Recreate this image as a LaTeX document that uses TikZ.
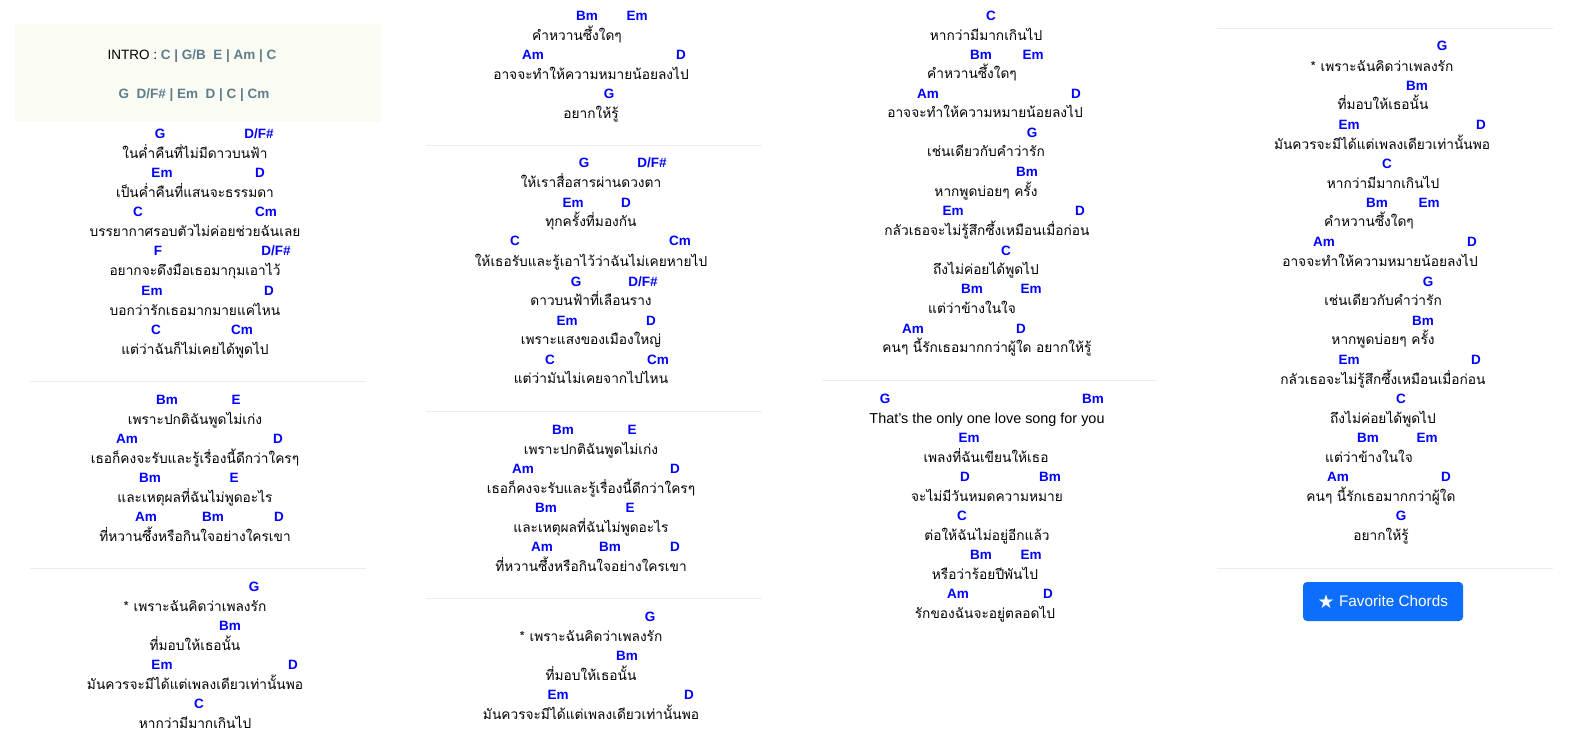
\documentclass[tikz,border=0pt]{standalone}
\usepackage{fontspec}
\setmainfont{Liberation Sans}
\newfontfamily\thaifont[Script=Thai]{Loma}
\newfontfamily\symfont{DejaVu Sans}
\usepackage{xcolor}
\usetikzlibrary{positioning}
\definecolor{chordblue}{RGB}{0,0,255}
\definecolor{introgray}{RGB}{95,125,140}
\definecolor{introbg}{RGB}{250,251,242}
\definecolor{rulegray}{RGB}{236,236,236}
\definecolor{btnblue}{RGB}{13,110,253}
\newcommand{\DFs}{D/F\#}

\begin{document}
\begin{tikzpicture}[x=1pt, y=-1pt,
    chord/.style={anchor=base, yshift=-5pt, inner sep=0pt, text=chordblue,
        font=\fontsize{13.5}{15}\selectfont\bfseries},
    lyric/.style={anchor=base, yshift=-5pt, inner sep=0pt,
        font=\thaifont\fontsize{13.7}{15}\selectfont},
    rule/.style={draw=rulegray, line width=1pt}]
    % Page
    \useasboundingbox (0,0) rectangle (1573,751);
    \fill[white] (0,0) rectangle (1573,751);

    % Intro box
    \fill[introbg] (15,24) rectangle (381,122);
    \node[lyric, font=\fontsize{13.5}{15}\selectfont] (intro1) at (192,55)
        {INTRO :\ \textcolor{introgray}{\bfseries C | G/B\ \ E | Am | C}};
    \node[lyric, font=\fontsize{13.5}{15}\selectfont\bfseries, text=introgray] (intro2) at (194,94)
        {G\ \ \DFs\ | Em\ \ D | C | Cm};

    % Section rules
    \draw[rule] (30,381) -- (366,381);
    \draw[rule] (30,568) -- (366,568);
    \draw[rule] (426,146) -- (762,146);
    \draw[rule] (426,411) -- (762,411);
    \draw[rule] (426,598) -- (762,598);
    \draw[rule] (822,380) -- (1157,380);
    \draw[rule] (1217,29) -- (1553,29);
    \draw[rule] (1217,568) -- (1553,568);

    % Column 1
    \foreach \x/\y/\c [count=\i] in {160/134/G, 259/134/\DFs, 162/173/Em, 260/173/D,
        138/212/C, 266/212/Cm, 158/251/F, 276/251/\DFs, 152/290/Em, 269/290/D,
        156/329/C, 242/329/Cm, 167/399/Bm, 236/399/E, 127/438/Am, 278/438/D,
        150/477/Bm, 234/477/E, 146/516/Am, 213/516/Bm, 279/516/D, 254/586/G,
        230/625/Bm, 162/664/Em, 293/664/D, 199/703/C}
        \node[chord] (chA\i) at (\x,\y) {\c};
    \foreach \x/\y/\t [count=\i] in {195/154/ในค่ำคืนที่ไม่มีดาวบนฟ้า,
        195/193/เป็นค่ำคืนที่แสนจะธรรมดา, 195/232/บรรยากาศรอบตัวไม่ค่อยช่วยฉันเลย,
        195/271/อยากจะดึงมือเธอมากุมเอาไว้, 195/310/บอกว่ารักเธอมากมายแค่ไหน,
        195/349/แต่ว่าฉันก็ไม่เคยได้พูดไป, 195/419/เพราะปกติฉันพูดไม่เก่ง,
        195/458/เธอก็คงจะรับและรู้เรื่องนี้ดีกว่าใครๆ, 195/497/และเหตุผลที่ฉันไม่พูดอะไร,
        195/536/ที่หวานซึ้งหรือกินใจอย่างใครเขา, 195/606/* เพราะฉันคิดว่าเพลงรัก,
        195/645/ที่มอบให้เธอนั้น, 195/684/มันควรจะมีได้แต่เพลงเดียวเท่านั้นพอ,
        195/723/หากว่ามีมากเกินไป}
        \node[lyric] (lyA\i) at (\x,\y) {\t};

    % Column 2
    \foreach \x/\y/\c [count=\i] in {587/16/Bm, 637/16/Em, 533/55/Am, 681/55/D,
        609/94/G, 584/163/G, 652/163/\DFs, 573/203/Em, 626/203/D, 515/241/C,
        680/241/Cm, 576/281/G, 643/281/\DFs, 567/320/Em, 651/320/D, 550/359/C,
        658/359/Cm, 563/429/Bm, 632/429/E, 523/468/Am, 675/468/D, 546/507/Bm,
        630/507/E, 542/546/Am, 610/546/Bm, 675/546/D, 650/616/G, 627/655/Bm,
        558/694/Em, 689/694/D}
        \node[chord] (chB\i) at (\x,\y) {\c};
    \foreach \x/\y/\t [count=\i] in {577/36/คำหวานซึ้งใดๆ,
        591/75/อาจจะทำให้ความหมายน้อยลงไป, 591/114/อยากให้รู้,
        591/183/ให้เราสื่อสารผ่านดวงตา, 591/222/ทุกครั้งที่มองกัน,
        591/261/ให้เธอรับและรู้เอาไว้ว่าฉันไม่เคยหายไป, 591/300/ดาวบนฟ้าที่เลือนราง,
        591/339/เพราะแสงของเมืองใหญ่, 591/378/แต่ว่ามันไม่เคยจากไปไหน,
        591/449/เพราะปกติฉันพูดไม่เก่ง, 591/488/เธอก็คงจะรับและรู้เรื่องนี้ดีกว่าใครๆ,
        591/527/และเหตุผลที่ฉันไม่พูดอะไร, 591/566/ที่หวานซึ้งหรือกินใจอย่างใครเขา,
        591/636/* เพราะฉันคิดว่าเพลงรัก, 591/675/ที่มอบให้เธอนั้น,
        591/714/มันควรจะมีได้แต่เพลงเดียวเท่านั้นพอ}
        \node[lyric] (lyB\i) at (\x,\y) {\t};

    % Column 3
    \foreach \x/\y/\c [count=\i] in {991/16/C, 981/55/Bm, 1033/55/Em, 928/94/Am,
        1076/94/D, 1032/133/G, 1027/172/Bm, 953/211/Em, 1080/211/D, 1006/250/C,
        972/289/Bm, 1031/289/Em, 913/328/Am, 1021/328/D, 885/398/G, 1093/398/Bm,
        969/437/Em, 965/476/D, 1050/476/Bm, 962/515/C, 981/554/Bm, 1031/554/Em,
        958/593/Am, 1048/593/D}
        \node[chord] (chC\i) at (\x,\y) {\c};
    \foreach \x/\y/\t [count=\i] in {986/36/หากว่ามีมากเกินไป, 972/74/คำหวานซึ้งใดๆ,
        985/113/อาจจะทำให้ความหมายน้อยลงไป, 986/152/เช่นเดียวกับคำว่ารัก,
        986/192/หากพูดบ่อยๆ ครั้ง, 987/231/กลัวเธอจะไม่รู้สึกซึ้งเหมือนเมื่อก่อน,
        986/269/ถึงไม่ค่อยได้พูดไป, 972/308/แต่ว่าข้างในใจ,
        987/347/คนๆ นี้รักเธอมากกว่าผู้ใด อยากให้รู้,
        987/418/{\rmfamily\fontsize{14.4}{15}\selectfont That's the only one love song for you},
        986/457/เพลงที่ฉันเขียนให้เธอ, 987/496/จะไม่มีวันหมดความหมาย,
        987/535/ต่อให้ฉันไม่อยู่อีกแล้ว, 985/574/หรือว่าร้อยปีพันไป,
        985/613/รักของฉันจะอยู่ตลอดไป}
        \node[lyric] (lyC\i) at (\x,\y) {\t};

    % Column 4
    \foreach \x/\y/\c [count=\i] in {1442/46/G, 1417/86/Bm, 1349/125/Em, 1481/125/D,
        1387/164/C, 1377/203/Bm, 1429/203/Em, 1324/242/Am, 1472/242/D, 1428/281/G,
        1423/320/Bm, 1349/359/Em, 1476/359/D, 1401/398/C, 1368/437/Bm, 1427/437/Em,
        1338/476/Am, 1446/476/D, 1401/515/G}
        \node[chord] (chD\i) at (\x,\y) {\c};
    \foreach \x/\y/\t [count=\i] in {1382/67/* เพราะฉันคิดว่าเพลงรัก,
        1383/105/ที่มอบให้เธอนั้น, 1382/145/มันควรจะมีได้แต่เพลงเดียวเท่านั้นพอ,
        1383/184/หากว่ามีมากเกินไป, 1369/222/คำหวานซึ้งใดๆ,
        1380/261/อาจจะทำให้ความหมายน้อยลงไป, 1383/300/เช่นเดียวกับคำว่ารัก,
        1383/339/หากพูดบ่อยๆ ครั้ง, 1383/379/กลัวเธอจะไม่รู้สึกซึ้งเหมือนเมื่อก่อน,
        1383/418/ถึงไม่ค่อยได้พูดไป, 1369/457/แต่ว่าข้างในใจ,
        1381/496/คนๆ นี้รักเธอมากกว่าผู้ใด, 1381/535/อยากให้รู้}
        \node[lyric] (lyD\i) at (\x,\y) {\t};

    % Favorite button
    \fill[btnblue, rounded corners=4pt] (1303,582) rectangle (1463,621);
    \node[text=white, font=\fontsize{15.3}{17}\selectfont, inner sep=0pt] (favtxt) at (1393.5,601.5)
        {Favorite Chords};
    \node[text=white, font=\symfont\fontsize{19}{19}\selectfont, inner sep=0pt, left=4pt of favtxt]
        (favstar) {★};
\end{tikzpicture}
\end{document}
